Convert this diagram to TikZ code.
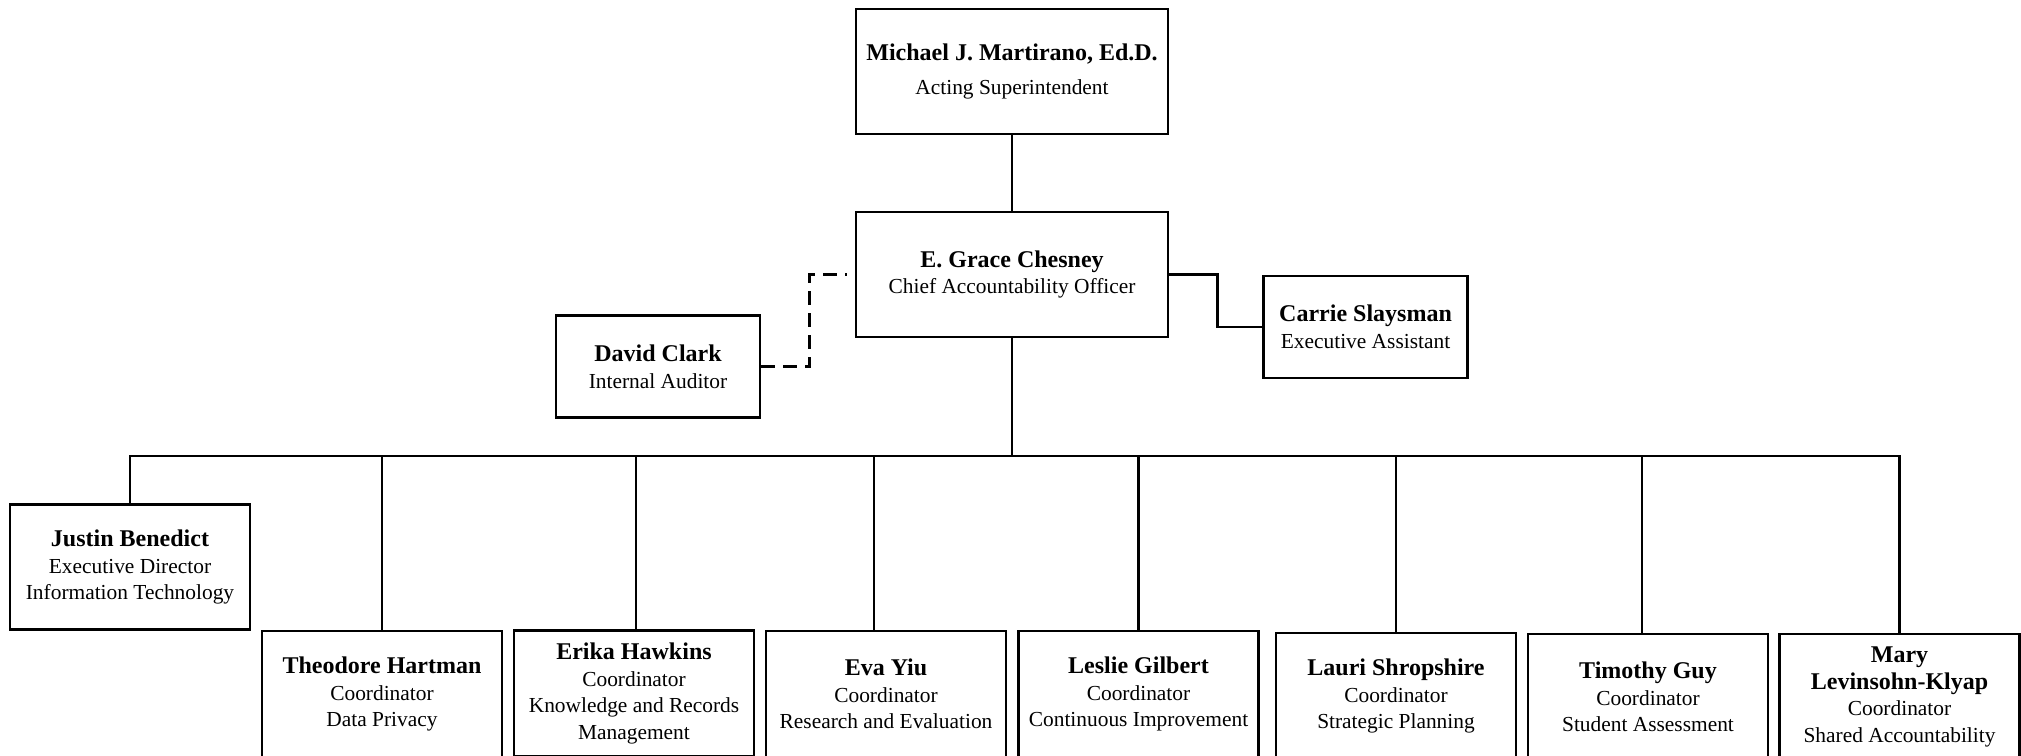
\documentclass[tikz,border=0pt]{standalone}
\usepackage{fontspec}
\setmainfont{Liberation Serif}
\usepackage{tikz}
\usetikzlibrary{positioning, calc}

\newcommand{\who}[1]{{\fontsize{12}{13.3}\selectfont\bfseries #1}}

\begin{document}
\begin{tikzpicture}[x=0.5pt, y=-0.5pt,
        staff/.style={draw, line width=1.3pt, align=center, inner sep=0pt, font=\fontsize{10.7}{13.3}\selectfont},
        chief/.style={staff, minimum width=156pt, minimum height=62.5pt},
        aide/.style={staff, minimum width=102pt, minimum height=51pt},
        unit/.style={staff, minimum width=120pt, minimum height=63pt},
        link/.style={line width=1.3pt},
        dashlink/.style={link, dash pattern=on 7pt off 4pt}]
            \path[use as bounding box, clip] (0,0) rectangle (2021,755);
            \node[chief] at (1012,71.5) (sup) {\who{Michael J. Martirano, Ed.D.}\\[4pt] Acting Superintendent};
            \node[chief] at (1012,274.5) (chesney) {\who{E. Grace Chesney}\\ Chief Accountability Officer};
            \node[aide] at (1365.5,327) (carrie) {\who{Carrie Slaysman}\\ Executive Assistant};
            \node[aide] at (658,366.5) (david) {\who{David Clark}\\ Internal Auditor};
            \node[unit, minimum height=62.5pt] at (130,567) (justin) {\who{Justin Benedict}\\ Executive Director\\ Information Technology};
            \node[unit] at (382,694) (theodore) {\who{Theodore Hartman}\\ Coordinator\\ Data Privacy};
            \node[unit] at (634,693.5) (erika) {\who{Erika Hawkins}\\ Coordinator\\ Knowledge and Records\\ Management};
            \node[unit] at (886,694) (eva) {\who{Eva Yiu}\\ Coordinator\\ Research and Evaluation};
            \node[unit] at (1138.5,694) (leslie) {\who{Leslie Gilbert}\\ Coordinator\\ Continuous Improvement};
            \node[unit] at (1396,696) (lauri) {\who{Lauri Shropshire}\\ Coordinator\\ Strategic Planning};
            \node[unit] at (1648,697) (timothy) {\who{Timothy Guy}\\ Coordinator\\ Student Assessment};
            \node[unit] at (1899.5,697) (mary) {\who{Mary}\\ \who{Levinsohn-Klyap}\\ Coordinator\\ Shared Accountability};
            \coordinate (bus) at (1012,456);
            \draw[link] (sup) -- (chesney);
            \draw[link] (chesney.east) -- ++(48,0) |- (carrie.west);
            \draw[dashlink] (david.east) -- ++(48,0) |- ([xshift=-4pt]chesney.west);
            \draw[link] (chesney) -- (bus);
            \draw[link] (justin.north) |- (bus) -| (mary.north);
            \draw[link] (theodore.north) -- (theodore.north |- bus);
            \draw[link] ([xshift=1pt]erika.north) -- ([xshift=1pt]erika.north |- bus);
            \draw[link] ([xshift=-6pt]eva.north) -- ([xshift=-6pt]eva.north |- bus);
            \draw[link] (leslie.north) -- (leslie.north |- bus);
            \draw[link] (lauri.north) -- (lauri.north |- bus);
            \draw[link] ([xshift=-3pt]timothy.north) -- ([xshift=-3pt]timothy.north |- bus);
        \end{tikzpicture}
\end{document}
